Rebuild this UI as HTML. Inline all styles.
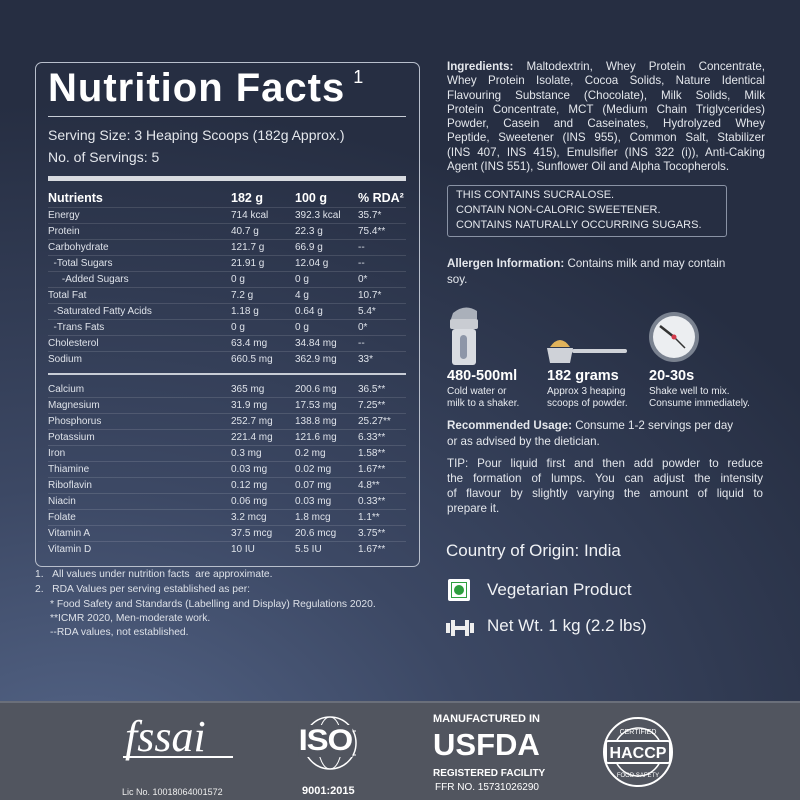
<!DOCTYPE html>
<html><head><meta charset="utf-8"><style>
*{margin:0;padding:0;box-sizing:border-box}
body{width:800px;height:800px;overflow:hidden;position:relative;font-family:"Liberation Sans",sans-serif;color:#e8ebf0;
background:radial-gradient(ellipse 900px 700px at 10% 100%,#56678a 0%,#3c4864 45%,#262e42 100%);}
.a{position:absolute;white-space:nowrap}
.box{position:absolute;left:35px;top:62px;width:385px;height:505px;border:1.5px solid #b8bfcc;border-radius:7px}
.r{position:absolute;left:48px;width:358px;height:16px;font-size:10px;border-bottom:1px solid rgba(255,255,255,0.12);color:#dfe3ea}
.r span{position:absolute;top:2px}
.c1{left:0}.c2{left:183px}.c3{left:247px}.c4{left:310px}
.rt{position:absolute;left:447px;font-size:11.6px;line-height:18px;color:#e4e7ec}
.j{width:318px;white-space:normal}
.j div{text-align:justify;text-align-last:justify;height:14.3px;line-height:14.3px;overflow:hidden}
.j div.l{text-align-last:left}
.ft{position:absolute;left:35px;font-size:10.3px;color:#dde1e8}
.banner{position:absolute;left:0;top:701px;width:800px;height:99px;background:#51555f;border-top:2px solid #6a6f7a}
</style></head><body>
<div class="box"></div>
<div class="a" style="left:48px;top:66px;font-size:40px;font-weight:bold;color:#fff;letter-spacing:1px">Nutrition Facts<sup style="font-size:18px;font-weight:normal;vertical-align:18px;margin-left:8px">1</sup></div>
<div class="a" style="left:48px;top:116px;width:358px;border-top:1px solid #c8cdd6"></div>
<div class="a" style="left:48px;top:127px;font-size:14px;color:#e4e7ec">Serving Size: 3 Heaping Scoops (182g Approx.)</div>
<div class="a" style="left:48px;top:149px;font-size:14px;color:#e4e7ec">No. of Servings: 5</div>
<div class="a" style="left:48px;top:176px;width:358px;height:5px;background:#d8dbe0"></div>
<div class="r" style="top:189px;height:19px;font-size:12.5px;font-weight:bold;color:#fff"><span class="c1">Nutrients</span><span class="c2">182 g</span><span class="c3">100 g</span><span class="c4">% RDA²</span></div>
<div class="r" style="top:208px"><span class="c1">Energy</span><span class="c2">714 kcal</span><span class="c3">392.3 kcal</span><span class="c4">35.7*</span></div>
<div class="r" style="top:224px"><span class="c1">Protein</span><span class="c2">40.7 g</span><span class="c3">22.3 g</span><span class="c4">75.4**</span></div>
<div class="r" style="top:240px"><span class="c1">Carbohydrate</span><span class="c2">121.7 g</span><span class="c3">66.9 g</span><span class="c4">--</span></div>
<div class="r" style="top:256px"><span class="c1">&nbsp;&nbsp;-Total Sugars</span><span class="c2">21.91 g</span><span class="c3">12.04 g</span><span class="c4">--</span></div>
<div class="r" style="top:272px"><span class="c1">&nbsp;&nbsp;&nbsp;&nbsp;&nbsp;-Added Sugars</span><span class="c2">0 g</span><span class="c3">0 g</span><span class="c4">0*</span></div>
<div class="r" style="top:288px"><span class="c1">Total Fat</span><span class="c2">7.2 g</span><span class="c3">4 g</span><span class="c4">10.7*</span></div>
<div class="r" style="top:304px"><span class="c1">&nbsp;&nbsp;-Saturated Fatty Acids</span><span class="c2">1.18 g</span><span class="c3">0.64 g</span><span class="c4">5.4*</span></div>
<div class="r" style="top:320px"><span class="c1">&nbsp;&nbsp;-Trans Fats</span><span class="c2">0 g</span><span class="c3">0 g</span><span class="c4">0*</span></div>
<div class="r" style="top:336px"><span class="c1">Cholesterol</span><span class="c2">63.4 mg</span><span class="c3">34.84 mg</span><span class="c4">--</span></div>
<div class="r" style="top:352px;border-bottom:none"><span class="c1">Sodium</span><span class="c2">660.5 mg</span><span class="c3">362.9 mg</span><span class="c4">33*</span></div>
<div class="a" style="left:48px;top:373px;width:358px;height:2px;background:#c8cdd6"></div>
<div class="r" style="top:382px"><span class="c1">Calcium</span><span class="c2">365 mg</span><span class="c3">200.6 mg</span><span class="c4">36.5**</span></div>
<div class="r" style="top:398px"><span class="c1">Magnesium</span><span class="c2">31.9 mg</span><span class="c3">17.53 mg</span><span class="c4">7.25**</span></div>
<div class="r" style="top:414px"><span class="c1">Phosphorus</span><span class="c2">252.7 mg</span><span class="c3">138.8 mg</span><span class="c4">25.27**</span></div>
<div class="r" style="top:430px"><span class="c1">Potassium</span><span class="c2">221.4 mg</span><span class="c3">121.6 mg</span><span class="c4">6.33**</span></div>
<div class="r" style="top:446px"><span class="c1">Iron</span><span class="c2">0.3 mg</span><span class="c3">0.2 mg</span><span class="c4">1.58**</span></div>
<div class="r" style="top:462px"><span class="c1">Thiamine</span><span class="c2">0.03 mg</span><span class="c3">0.02 mg</span><span class="c4">1.67**</span></div>
<div class="r" style="top:478px"><span class="c1">Riboflavin</span><span class="c2">0.12 mg</span><span class="c3">0.07 mg</span><span class="c4">4.8**</span></div>
<div class="r" style="top:494px"><span class="c1">Niacin</span><span class="c2">0.06 mg</span><span class="c3">0.03 mg</span><span class="c4">0.33**</span></div>
<div class="r" style="top:510px"><span class="c1">Folate</span><span class="c2">3.2 mcg</span><span class="c3">1.8 mcg</span><span class="c4">1.1**</span></div>
<div class="r" style="top:526px"><span class="c1">Vitamin A</span><span class="c2">37.5 mcg</span><span class="c3">20.6 mcg</span><span class="c4">3.75**</span></div>
<div class="r" style="top:542px;border-bottom:none"><span class="c1">Vitamin D</span><span class="c2">10 IU</span><span class="c3">5.5 IU</span><span class="c4">1.67**</span></div>

<div class="ft" style="top:569px">1.&nbsp;&nbsp;&nbsp;All values under nutrition facts&nbsp; are approximate.</div>
<div class="ft" style="top:584px">2.&nbsp;&nbsp;&nbsp;RDA Values per serving established as per:</div>
<div class="ft" style="top:599px;left:50px">* Food Safety and Standards (Labelling and Display) Regulations 2020.</div>
<div class="ft" style="top:613px;left:50px">**ICMR 2020, Men-moderate work.</div>
<div class="ft" style="top:627px;left:50px">--RDA values, not established.</div>

<div class="rt j" style="top:60px">
<div><b>Ingredients:</b> Maltodextrin, Whey Protein Concentrate,</div>
<div>Whey Protein Isolate, Cocoa Solids, Nature Identical</div>
<div>Flavouring Substance (Chocolate), Milk Solids, Milk</div>
<div>Protein Concentrate, MCT (Medium Chain Triglycerides)</div>
<div>Powder, Casein and Caseinates, Hydrolyzed Whey</div>
<div>Peptide, Sweetener (INS 955), Common Salt, Stabilizer</div>
<div>(INS 407, INS 415), Emulsifier (INS 322 (i)), Anti-Caking</div>
<div class="l">Agent (INS 551), Sunflower Oil and Alpha Tocopherols.</div>
</div>
<div class="a" style="left:447px;top:185px;width:280px;height:52px;border:1px solid #8a93a5;border-radius:3px"></div>
<div class="rt" style="top:188px;left:456px;font-size:11px;line-height:15px">THIS CONTAINS SUCRALOSE.<br>CONTAIN NON-CALORIC SWEETENER.<br>CONTAINS NATURALLY OCCURRING SUGARS.</div>
<div class="rt" style="top:256px;line-height:16px"><b>Allergen Information:</b> Contains milk and may contain<br>soy.</div>

<svg class="a" style="left:445px;top:305px" width="330" height="62">
<path d="M8 8 Q20 -2 32 6 L32 14 L6 14 Z" fill="#aab0ba"/>
<rect x="5" y="14" width="28" height="10" rx="2" fill="#c9ccd2"/>
<rect x="7" y="24" width="24" height="36" rx="3" fill="#d9dce1"/>
<rect x="15" y="30" width="7" height="24" rx="3.5" fill="#8d96a8"/>
<path d="M105 42 Q115 28 125 42 Z" fill="#e0b25a"/>
<path d="M102 43 L128 43 L125 58 L105 58 Z" fill="#cfd2d8"/>
<rect x="127" y="44" width="55" height="4" rx="2" fill="#cfd2d8"/>
<circle cx="229" cy="32" r="25" fill="#7a8290"/>
<circle cx="229" cy="32" r="21" fill="#eceef1"/>
<line x1="229" y1="32" x2="215" y2="21" stroke="#333" stroke-width="2.5"/>
<line x1="229" y1="32" x2="240" y2="43" stroke="#333" stroke-width="1.5"/>
<circle cx="229" cy="32" r="2.5" fill="#d23a4a"/>
</svg>
<div class="a" style="left:447px;top:368px;font-size:14.5px;font-weight:bold;color:#fff">480-500ml</div>
<div class="a" style="left:547px;top:368px;font-size:14.5px;font-weight:bold;color:#fff">182 grams</div>
<div class="a" style="left:649px;top:368px;font-size:14.5px;font-weight:bold;color:#fff">20-30s</div>
<div class="a" style="left:447px;top:386px;font-size:10px;line-height:12px">Cold water or<br>milk to a shaker.</div>
<div class="a" style="left:547px;top:386px;font-size:10px;line-height:12px">Approx 3 heaping<br>scoops of powder.</div>
<div class="a" style="left:649px;top:386px;font-size:10px;line-height:12px">Shake well to mix.<br>Consume immediately.</div>
<div class="rt" style="top:418px;line-height:16px"><b>Recommended Usage:</b> Consume 1-2 servings per day<br>or as advised by the dietician.</div>
<div class="rt j" style="top:456px;width:316px">
<div style="height:15px;line-height:15px">TIP: Pour liquid first and then add powder to reduce</div>
<div style="height:15px;line-height:15px">the formation of lumps. You can adjust the intensity</div>
<div style="height:15px;line-height:15px">of flavour by slightly varying the amount of liquid to</div>
<div class="l" style="height:15px;line-height:15px">prepare it.</div>
</div>
<div class="a" style="left:446px;top:541px;font-size:17px;color:#f0f2f5">Country of Origin: India</div>
<div class="a" style="left:448px;top:579px;width:22px;height:22px;background:#fff;border-radius:2px"><div style="position:absolute;left:3px;top:3px;width:16px;height:16px;border:1.5px solid #2e9e3e"></div><div style="position:absolute;left:6px;top:6px;width:10px;height:10px;border-radius:50%;background:#2e9e3e"></div></div>
<div class="a" style="left:487px;top:580px;font-size:17px;color:#f0f2f5">Vegetarian Product</div>
<svg class="a" style="left:446px;top:620px" width="28" height="16"><rect x="0" y="3" width="4" height="10" fill="#eee"/><rect x="5" y="0" width="4" height="16" fill="#eee"/><rect x="9" y="6" width="10" height="4" fill="#eee"/><rect x="19" y="0" width="4" height="16" fill="#eee"/><rect x="24" y="3" width="4" height="10" fill="#eee"/></svg>
<div class="a" style="left:487px;top:616px;font-size:17px;color:#f0f2f5">Net Wt. 1 kg (2.2 lbs)</div>

<div class="banner">
<div class="a" style="left:125px;top:8px;font-family:'Liberation Serif',serif;font-style:italic;font-size:44px;color:#fff">fssai</div>
<div class="a" style="left:123px;top:53px;width:110px;height:2px;background:#fff"></div>
<div class="a" style="left:122px;top:84px;font-size:9px;color:#eee">Lic No. 10018064001572</div>
<svg class="a" style="left:298px;top:10px" width="64" height="64"><circle cx="32" cy="30" r="26" fill="none" stroke="#fff" stroke-width="1.5"/><ellipse cx="32" cy="30" rx="12" ry="26" fill="none" stroke="#fff" stroke-width="1"/><line x1="6" y1="18" x2="58" y2="18" stroke="#fff"/><line x1="6" y1="42" x2="58" y2="42" stroke="#fff"/></svg>
<div class="a" style="left:301px;top:22px;font-size:30px;font-weight:bold;color:#fff;background:#51555f;letter-spacing:-1px;line-height:32px;transform:scaleX(1.1)">ISO</div>
<div class="a" style="left:302px;top:82px;font-size:11px;font-weight:bold;color:#fff">9001:2015</div>
<div class="a" style="left:433px;top:10px;font-size:11px;font-weight:bold;color:#fff">MANUFACTURED IN</div>
<div class="a" style="left:433px;top:24px;font-size:31px;font-weight:bold;color:#fff">USFDA</div>
<div class="a" style="left:433px;top:65px;font-size:10px;font-weight:bold;color:#fff">REGISTERED FACILITY</div>
<div class="a" style="left:435px;top:79px;font-size:10px;color:#fff">FFR NO. 15731026290</div>
<svg class="a" style="left:600px;top:12px" width="80" height="80"><circle cx="38" cy="37" r="34" fill="none" stroke="#fff" stroke-width="2"/><circle cx="38" cy="37" r="24" fill="none" stroke="#fff" stroke-width="1.5"/><rect x="6" y="26" width="64" height="22" fill="#51555f" stroke="#fff" stroke-width="2" rx="2"/><text x="38" y="43" font-size="16" font-weight="bold" fill="#fff" text-anchor="middle" font-family="Liberation Sans">HACCP</text><text x="38" y="19" font-size="7" fill="#fff" text-anchor="middle" font-family="Liberation Sans">CERTIFIED</text><text x="38" y="62" font-size="6" fill="#fff" text-anchor="middle" font-family="Liberation Sans">FOOD SAFETY</text></svg>
</div>
</body></html>
